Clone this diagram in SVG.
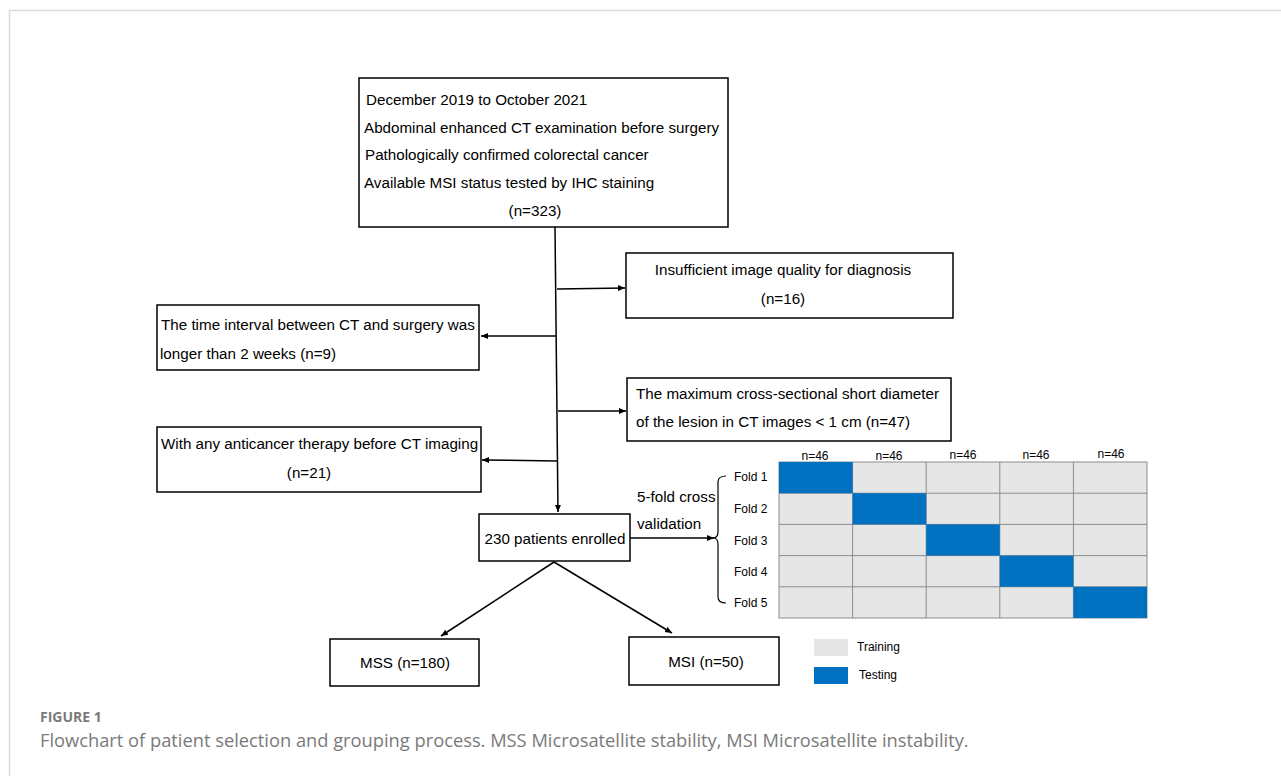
<svg xmlns="http://www.w3.org/2000/svg" width="1281" height="776" viewBox="0 0 1281 776">
<defs>
<marker id="ah" markerWidth="8" markerHeight="8" refX="7" refY="4" orient="auto" markerUnits="userSpaceOnUse">
<path d="M0,1 L7,4 L0,7 Z" fill="#000"/>
</marker>
<style>
.box{fill:#fff;stroke:#000;stroke-width:1.5}
.t{font-family:"Liberation Sans",Arial,sans-serif;font-size:15.2px;fill:#000}
.s{font-family:"Liberation Sans",Arial,sans-serif;font-size:12px;fill:#000}
.c{stroke:#000;stroke-width:1.5;fill:none}
.tr{fill:#e6e6e6;stroke:#8c8c8c;stroke-width:1}
.cap{font-family:"Open Sans","Noto Sans",sans-serif;fill:#7a7a7a}
</style>
</defs>
<rect x="0" y="0" width="1281" height="776" fill="#fff"/>
<path d="M9.5,776 L9.5,10.5 L1281,10.5" fill="none" stroke="#dcdcdc" stroke-width="1.5"/>

<g id="connectors">
<path class="c" d="M555,227 L558,512" marker-end="url(#ah)"/>
<path class="c" d="M557,289 L625,288" marker-end="url(#ah)"/>
<path class="c" d="M556,336 L481,336" marker-end="url(#ah)"/>
<path class="c" d="M558,411 L626,411" marker-end="url(#ah)"/>
<path class="c" d="M557,461 L482,460" marker-end="url(#ah)"/>
<path class="c" d="M630,538 L714,538" marker-end="url(#ah)"/>
<path class="c" d="M554,562 L441,636" marker-end="url(#ah)"/>
<path class="c" d="M554,562 L672,633" marker-end="url(#ah)"/>
<path d="M726,476 Q718,476 718,482 L718,532 Q718,538 713,538 Q718,538 718,544 L718,597 Q718,603 726,603" fill="none" stroke="#000" stroke-width="1.2"/>
</g>

<g id="n-start">
<rect class="box" x="359" y="78" width="369" height="149"/>
<text class="t" x="366" y="105">December 2019 to October 2021</text>
<text class="t" x="364" y="133">Abdominal enhanced CT examination before surgery</text>
<text class="t" x="365" y="160">Pathologically confirmed colorectal cancer</text>
<text class="t" x="364" y="188">Available MSI status tested by IHC staining</text>
<text class="t" x="535" y="216" text-anchor="middle">(n=323)</text>
</g>

<g id="n-insufficient">
<rect class="box" x="626" y="253" width="327" height="65"/>
<text class="t" x="783" y="275" text-anchor="middle">Insufficient image quality for diagnosis</text>
<text class="t" x="783" y="304" text-anchor="middle">(n=16)</text>
</g>

<g id="n-interval">
<rect class="box" x="157" y="305" width="322" height="65"/>
<text class="t" x="161" y="330">The time interval between CT and surgery was</text>
<text class="t" x="160" y="359">longer than 2 weeks (n=9)</text>
</g>

<g id="n-diameter">
<rect class="box" x="627" y="378" width="324" height="63"/>
<text class="t" x="636" y="399">The maximum cross-sectional short diameter</text>
<text class="t" x="636" y="427">of the lesion in CT images &lt; 1 cm (n=47)</text>
</g>

<g id="n-therapy">
<rect class="box" x="157" y="427" width="324" height="65"/>
<text class="t" x="161" y="449">With any anticancer therapy before CT imaging</text>
<text class="t" x="309" y="478" text-anchor="middle">(n=21)</text>
</g>

<g id="n-enrolled">
<rect class="box" x="479" y="514" width="151" height="47"/>
<text class="t" x="555" y="544" text-anchor="middle">230 patients enrolled</text>
</g>

<g id="n-mss">
<rect class="box" x="330" y="639" width="149" height="47"/>
<text class="t" x="405" y="668" text-anchor="middle">MSS (n=180)</text>
</g>

<g id="n-msi">
<rect class="box" x="629" y="637" width="150" height="48"/>
<text class="t" x="706" y="667" text-anchor="middle">MSI (n=50)</text>
</g>

<g id="n-cv-label">
<text class="t" x="637" y="502">5-fold cross</text>
<text class="t" x="637" y="529">validation</text>
</g>

<g id="n-grid">
<text class="s" x="815" y="460" text-anchor="middle">n=46</text>
<text class="s" x="889" y="460" text-anchor="middle">n=46</text>
<text class="s" x="963" y="459" text-anchor="middle">n=46</text>
<text class="s" x="1036" y="459" text-anchor="middle">n=46</text>
<text class="s" x="1111" y="458" text-anchor="middle">n=46</text>
<text class="s" x="734" y="481">Fold 1</text>
<text class="s" x="734" y="513">Fold 2</text>
<text class="s" x="734" y="545">Fold 3</text>
<text class="s" x="734" y="576">Fold 4</text>
<text class="s" x="734" y="607">Fold 5</text>

<rect class="tr" x="779" y="462" width="368" height="156"/>
<g stroke="#8c8c8c" stroke-width="1">
<line x1="852.6" y1="462" x2="852.6" y2="618"/>
<line x1="926.2" y1="462" x2="926.2" y2="618"/>
<line x1="999.8" y1="462" x2="999.8" y2="618"/>
<line x1="1073.4" y1="462" x2="1073.4" y2="618"/>
<line x1="779" y1="493.2" x2="1147" y2="493.2"/>
<line x1="779" y1="524.4" x2="1147" y2="524.4"/>
<line x1="779" y1="555.6" x2="1147" y2="555.6"/>
<line x1="779" y1="586.8" x2="1147" y2="586.8"/>
</g>
<rect fill="#0070c0" x="779" y="462" width="73.6" height="31.2"/>
<rect fill="#0070c0" x="852.6" y="493.2" width="73.6" height="31.2"/>
<rect fill="#0070c0" x="926.2" y="524.4" width="73.6" height="31.2"/>
<rect fill="#0070c0" x="999.8" y="555.6" width="73.6" height="31.2"/>
<rect fill="#0070c0" x="1073.4" y="586.8" width="73.6" height="31.2"/>
</g>

<g id="n-legend">
<rect x="814" y="639" width="34" height="17" fill="#e6e6e6"/>
<text class="s" x="857" y="651">Training</text>
<rect x="814" y="667" width="34" height="17" fill="#0070c0"/>
<text class="s" x="859" y="679">Testing</text>
</g>

<g id="caption">
<text class="cap" x="40" y="722" font-size="14" font-weight="700">FIGURE 1</text>
<text class="cap" x="40" y="747" font-size="18.3">Flowchart of patient selection and grouping process. MSS Microsatellite stability, MSI Microsatellite instability.</text>
</g>
</svg>
